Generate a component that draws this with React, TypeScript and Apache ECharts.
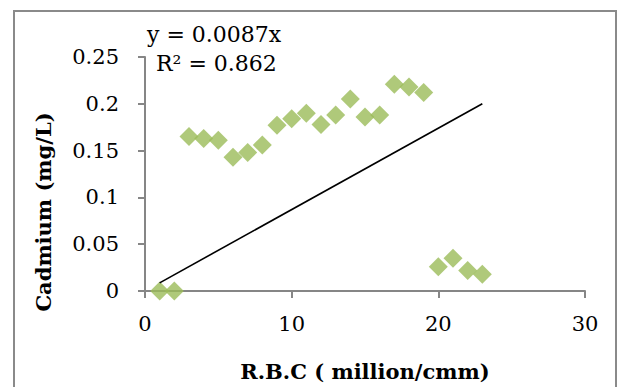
import React, { useEffect, useRef } from "react";
import * as echarts from "echarts";

const rbc = [1, 2, 3, 4, 5, 6, 7, 8, 9, 10, 11, 12, 13, 14, 15, 16, 17, 18, 19, 20, 21, 22, 23];
const cadmium = [0, 0, 0.165, 0.163, 0.161, 0.143, 0.148, 0.156, 0.177, 0.184, 0.19, 0.178, 0.188, 0.205, 0.186, 0.188, 0.221, 0.218, 0.212, 0.026, 0.035, 0.022, 0.018];
const trendSlope = 0.0087;
const trendRange = [1, 23];
const equationText = "y = 0.0087x";
const r2Text = "R² = 0.862";
const xTitle = "R.B.C ( million/cmm)";
const yTitle = "Cadmium (mg/L)";

export default function App() {
  const ref = useRef<HTMLDivElement>(null);
  useEffect(() => {
    if (!ref.current) return;
    const chart = echarts.init(ref.current, null, { renderer: "svg" });
    const font = "DejaVu Serif";
    const axisColor = "#868686";
    chart.setOption({
      animation: false,
      backgroundColor: "#ffffff",
      grid: { left: 145, right: 33, top: 57, bottom: 96, containLabel: false },
      xAxis: {
        type: "value",
        min: 0,
        max: 30,
        interval: 10,
        splitLine: { show: false },
        axisLine: { show: true, onZero: false, lineStyle: { color: axisColor, width: 2 } },
        axisTick: { show: true, length: 7, lineStyle: { color: axisColor, width: 2 } },
        axisLabel: { color: "#000", fontFamily: font, fontSize: 21, margin: 22 },
      },
      yAxis: {
        type: "value",
        min: 0,
        max: 0.25,
        interval: 0.05,
        splitLine: { show: false },
        axisLine: { show: true, onZero: false, lineStyle: { color: axisColor, width: 2 } },
        axisTick: { show: true, length: 7, lineStyle: { color: axisColor, width: 2 } },
        axisLabel: { color: "#000", fontFamily: font, fontSize: 21, margin: 26 },
      },
      series: [
        {
          type: "line",
          data: trendRange.map((x) => [x, trendSlope * x]),
          symbol: "none",
          lineStyle: { color: "#000", width: 1.6 },
          silent: true,
          z: 3,
        },
        {
          type: "scatter",
          data: rbc.map((x, i) => [x, cadmium[i]]),
          symbol: "diamond",
          symbolSize: 19,
          itemStyle: { color: "#9BBB59" },
          z: 2,
        },
      ],
      graphic: [
        {
          type: "rect",
          shape: { x: 14, y: 11, width: 602, height: 400 },
          style: { fill: "none", stroke: "#8a8a8a", lineWidth: 2 },
          silent: true,
        },
        {
          type: "text",
          x: 147,
          y: 34,
          style: { text: equationText, font: `22px '${font}'`, fill: "#000", verticalAlign: "middle" },
        },
        {
          type: "text",
          x: 156,
          y: 63,
          style: { text: r2Text, font: `22px '${font}'`, fill: "#000", verticalAlign: "middle" },
        },
        {
          type: "text",
          x: 365,
          y: 371,
          style: { text: xTitle, font: `bold 21px '${font}'`, fill: "#000", align: "center", verticalAlign: "middle" },
        },
        {
          type: "text",
          x: 43,
          y: 212,
          rotation: Math.PI / 2,
          style: { text: yTitle, font: `bold 21px '${font}'`, fill: "#000", align: "center", verticalAlign: "middle" },
        },
      ],
    });
    return () => chart.dispose();
  }, []);
  return <div ref={ref} style={{ width: 618, height: 387, position: "absolute", left: 0, top: 0 }} />;
}
